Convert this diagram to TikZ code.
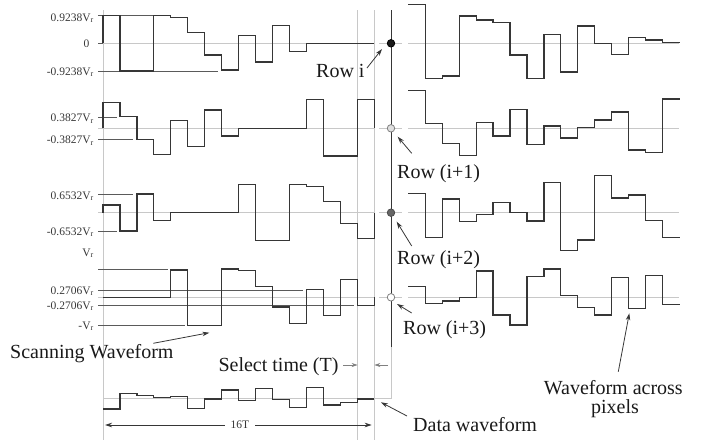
\documentclass[tikz,border=0pt]{standalone}
\usepackage{fontspec}
\setmainfont{Liberation Serif}
\usetikzlibrary{arrows.meta}

\definecolor{inkc}{HTML}{363636}
\definecolor{guidec}{HTML}{C8C8C8}
\definecolor{tickc}{HTML}{5A5A5A}

% staircase waveform: start x, start level, list of 16 step levels
\newcommand\stairpath[3]{%
  \draw[wave] (#1,#2) \foreach \lv [count=\kk] in {#3} { |- ({#1+\kk*16.95},\lv) };%
}

\tikzset{
  wave/.style={draw=inkc, line width=1.2pt},
  guide/.style={draw=guidec, line width=0.8pt},
  tick/.style={draw=tickc, line width=0.8pt},
  vlab/.style={anchor=base east, inner sep=0pt, text=inkc, font=\fontsize{11.5}{13}\selectfont},
  big/.style={anchor=base west, inner sep=0pt, text=black!90, font=\fontsize{20}{24}\selectfont},
  ptr/.style={draw=inkc, line width=0.8pt, -{Stealth[length=7pt,width=4.5pt]}},
  gptr/.style={draw=gray, line width=0.8pt, -{Stealth[length=6pt,width=4pt]}},
  pdot/.style={circle, inner sep=0pt, minimum size=7.5pt, line width=0.8pt},
}

\begin{document}
\begin{tikzpicture}[x=1pt,y=-1pt]
\useasboundingbox (0,0) rectangle (702,445);

% ---------- vertical guides ----------
\draw[guide] (103,10) -- (103,440);
\draw[guide] (357.7,10) -- (357.7,440);
\draw[guide] (374.3,10) -- (374.3,440);

% ---------- zero lines ----------
\foreach \zy in {43.3,128.3,212.7,297.3} {
  \draw[guide] (98,\zy) -- (374.3,\zy);
  \draw[guide] (379.3,\zy) -- (402.3,\zy);
  \draw[guide] (408.3,\zy) -- (679.3,\zy);
}
\draw[guide] (103,398.3) -- (391,398.3) -- (391,347);
\draw[draw=inkc, line width=1pt] (391,10) -- (391,347);

% ---------- level ticks ----------
\draw[tick] (98,15.7) -- (171,15.7);
\draw[tick] (98,43.3) -- (103,43.3);
\draw[tick] (98,71) -- (218,71);
\draw[tick] (98,117.3) -- (116.7,117.3);
\draw[tick] (98,139.3) -- (133.3,139.3);
\draw[tick] (98,194.7) -- (133.3,194.7);
\draw[tick] (98,231) -- (116.7,231);
\draw[tick] (98,269.3) -- (167.7,269.3);
\draw[tick] (98,290) -- (303.3,290);
\draw[tick] (98,305.7) -- (354.3,305.7);
\draw[tick] (98,325.7) -- (185,325.7);

% ---------- level labels ----------
\node[vlab] (l1) at (94,21)    {0.9238V\textsubscript{r}};
\node[vlab] (l0) at (89.5,47.7) {0};
\node[vlab] (l2) at (94,75)    {-0.9238V\textsubscript{r}};
\node[vlab] (l3) at (94,121.7) {0.3827V\textsubscript{r}};
\node[vlab] (l4) at (94,143.3) {-0.3827V\textsubscript{r}};
\node[vlab] (l5) at (94,199)   {0.6532V\textsubscript{r}};
\node[vlab] (l6) at (94,235)   {-0.6532V\textsubscript{r}};
\node[vlab] (l7) at (94,256)   {V\textsubscript{r}};
\node[vlab] (l8) at (94,294)   {0.2706V\textsubscript{r}};
\node[vlab] (l9) at (94,309)   {-0.2706V\textsubscript{r}};
\node[vlab] (l10) at (94,329)  {-V\textsubscript{r}};

% ---------- scanning waveforms (left) ----------
\stairpath{103}{43.3}{15.7,71,71,15.7,17.7,32.7,55,70,35.7,62,25.3,51.7,43.3,43.3,43.3,43.3}
\stairpath{103}{128.3}{102.3,116.7,139.3,154.3,120.7,146.7,110,136,128.3,128.3,128.3,128.3,99.3,156,156,99.3}
\draw[wave] (374.3,99.3) -- (374.3,128.3);
\stairpath{103}{212.7}{205,231,194,220.7,212.7,212.7,212.7,212.7,184.3,240.7,240.7,184.3,186.7,201.3,223.3,238.7}
\draw[wave] (374.3,238.7) -- (374.3,212.7);
\stairpath{103}{297.3}{297.3,297.3,297.3,297.3,270,325.7,325.7,269,270.7,286.7,307,323.3,289.3,315.7,279.3,305.7}
\draw[wave] (374.3,305.7) -- (374.3,297.3);

% ---------- data waveform ----------
\stairpath{103}{409}{409,393.3,395.7,397.7,396.7,408.7,399,390,400.7,388.3,399.3,407.3,387.3,405,402.3,399}
\draw[draw=inkc, line width=2pt] (357.7,399) -- (374.3,399);

% ---------- waveforms across pixels (right) ----------
\stairpath{408.3}{4.7}{4.7,78.7,76,16,20,22.3,55,78.7,34.3,72,26,43.3,54.3,37.3,40,42.3}
\stairpath{408.3}{90.7}{90.7,123.3,143.3,155.3,122.7,136,109.3,144.7,126,138,127.7,120,112,150,152.3,99}
\stairpath{408.3}{193.3}{193.3,237.7,199,221.3,214.7,202.7,212.7,221,182.7,250.3,240,175.7,198,195,220.7,237.7}
\stairpath{408.3}{286.7}{286.7,303.3,301,297.3,271,315,325,276.7,269,295.7,307.7,315,277.7,308.5,275.7,304.3}

% ---------- pixel dots ----------
\node[pdot, draw=black, fill=black!90] (d0) at (391,43.3) {};
\node[pdot, draw=gray, fill=gray!25] (d1) at (391,128.3) {};
\node[pdot, draw=black!70, fill=gray!80!black] (d2) at (391,212.7) {};
\node[pdot, draw=gray, fill=white] (d3) at (391,297.3) {};

% ---------- labels ----------
\node[big] (ri)  at (316,77.3)  {Row i};
\node[big] (ri1) at (397,178.3) {Row (i+1)};
\node[big] (ri2) at (397,264.3) {Row (i+2)};
\node[big] (ri3) at (403,334.5) {Row (i+3)};
\node[big] (sel) at (218.3,371.7) {Select time (T)};
\node[big] (scan) at (10,358.3) {Scanning Waveform};
\node[big] (dat) at (413,431.7) {Data waveform};
\node[big, anchor=base] (wa1) at (613.3,394) {Waveform across};
\node[big, anchor=base] (wa2) at (615,413.3) {pixels};

% ---------- pointers ----------
\coordinate (riT) at (367,68);    \coordinate (riH) at (382,49);
\coordinate (r1T) at (411.7,153.3); \coordinate (r1H) at (397.7,136.7);
\coordinate (r2T) at (411.7,246);   \coordinate (r2H) at (396.7,221.7);
\coordinate (r3T) at (411.7,313);   \coordinate (r3H) at (397,304);
\coordinate (scT) at (153.3,343.3); \coordinate (scH) at (209.3,332.7);
\coordinate (daT) at (407,416);     \coordinate (daH) at (381,402.3);
\coordinate (waT) at (618.3,371.7); \coordinate (waH) at (629.3,313.3);
\draw[ptr] (riT) -- (riH);
\draw[ptr] (r1T) -- (r1H);
\draw[ptr] (r2T) -- (r2H);
\draw[ptr] (r3T) -- (r3H);
\draw[ptr] (scT) -- (scH);
\draw[ptr] (daT) -- (daH);
\draw[ptr] (waT) -- (waH);

% select time markers
\coordinate (stL) at (343,365);  \coordinate (stLh) at (357.7,365);
\coordinate (stR) at (388,365);  \coordinate (stRh) at (374.3,365);
\draw[gptr] (stL) -- (stLh);
\draw[gptr] (stR) -- (stRh);

% 16T span
\node[inner xsep=6pt, inner ysep=0pt, text=inkc, font=\fontsize{11.5}{13}\selectfont] (span) at (240,425) {16T};
\coordinate (spL) at (105,425); \coordinate (spR) at (371.7,425);
\draw[ptr] (span.west) -- (spL);
\draw[ptr] (span.east) -- (spR);
\end{tikzpicture}
\end{document}
